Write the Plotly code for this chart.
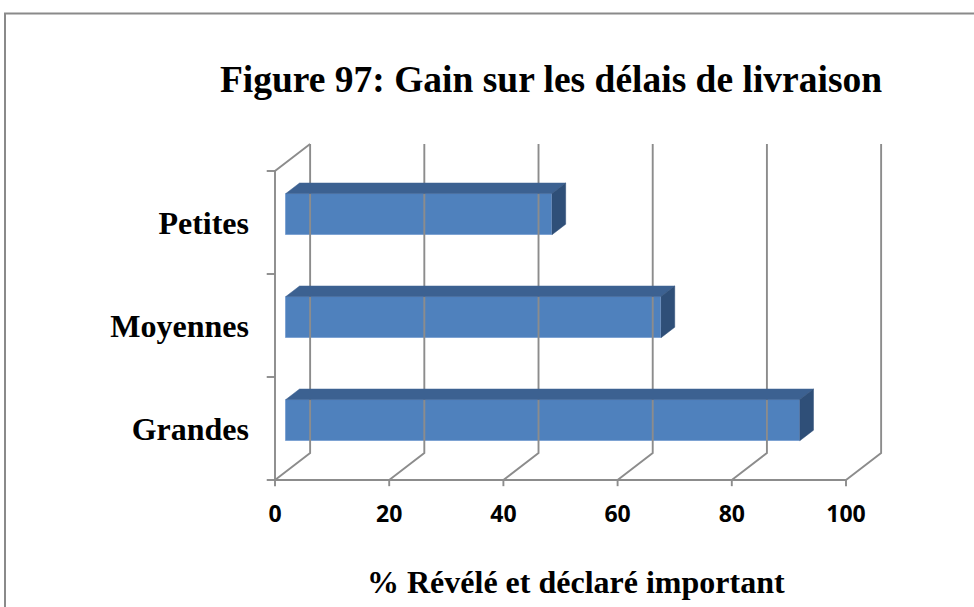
import plotly.graph_objects as go

# Data
categories = ["Grandes", "Moyennes", "Petites"]          # bottom to top
values = [90.0, 65.7, 46.6]                              # % revealed and declared important
x_ticks = [0, 20, 40, 60, 80, 100]

# Pseudo-3D geometry (data units)
DX = 6.15      # depth offset along value axis
DY = 0.262     # depth offset along category axis
D0, D1 = 0.31, 0.70   # front / back depth of bars
BAR_W = 0.4

FRONT = "#4F81BD"
TOP = "#3C6191"
SIDE = "#2F4F78"
GRID = "#8C8C8C"

fig = go.Figure()

# Back wall gridlines + floor diagonals
gx, gy = [], []
for v in x_ticks:
    gx += [v, v + DX, v + DX, None]
    gy += [0, DY, 3 + DY, None]
# Left wall outline
gx += [0, 0, DX, None]
gy += [0, 3, 3 + DY, None]
# Front value axis line
gx += [0, 100, None]
gy += [0, 0, None]
# Tick marks below the value axis
for v in x_ticks:
    gx += [v, v, None]
    gy += [0, -0.06, None]
# Tick marks left of the wall
for k in range(4):
    gx += [-1.45, 0, None]
    gy += [k, k, None]
fig.add_trace(go.Scatter(x=gx, y=gy, mode="lines",
                         line=dict(color=GRID, width=1.9),
                         hoverinfo="skip", showlegend=False))

# Bars: top and side faces as polygons, front face as a bar trace
ddx = (D1 - D0) * DX
ddy = (D1 - D0) * DY
for i, val in enumerate(values):
    x0 = D0 * DX
    x1 = val + D0 * DX
    yb = i + 0.5 - BAR_W / 2 + D0 * DY
    yt = i + 0.5 + BAR_W / 2 + D0 * DY
    fig.add_trace(go.Scatter(
        x=[x0, x1, x1 + ddx, x0 + ddx, x0],
        y=[yt, yt, yt + ddy, yt + ddy, yt],
        mode="lines", fill="toself", fillcolor=TOP,
        line=dict(color=TOP, width=0.5),
        hoverinfo="skip", showlegend=False))
    fig.add_trace(go.Scatter(
        x=[x1, x1 + ddx, x1 + ddx, x1, x1],
        y=[yb, yb + ddy, yt + ddy, yt, yb],
        mode="lines", fill="toself", fillcolor=SIDE,
        line=dict(color=SIDE, width=0.5),
        hoverinfo="skip", showlegend=False))

fig.add_trace(go.Bar(
    orientation="h",
    y=[i + 0.5 + D0 * DY for i in range(len(values))],
    x=values,
    base=D0 * DX,
    width=BAR_W,
    marker=dict(color=FRONT, line=dict(color="#7EA3D3", width=1)),
    hoverinfo="skip", showlegend=False))

# Plot area spans px 262..904 horizontally and 135..490 vertically
PX_PER_UNIT = 5.71
L, R, T, B = 262, 70, 135, 117
x_range = [(262 - 275) / PX_PER_UNIT, (904 - 275) / PX_PER_UNIT]
y_range = [(480 - 490) / 103, (480 - 135) / 103]

fig.update_layout(
    width=974, height=607,
    margin=dict(l=L, r=R, t=T, b=B),
    paper_bgcolor="white", plot_bgcolor="white",
    bargap=0,
    title=dict(text="Figure 97: Gain sur les délais de livraison",
               x=551 / 974, xanchor="center", xref="container",
               y=1 - 79 / 607, yanchor="middle",
               font=dict(family="Liberation Serif", size=37.5, color="black", weight="bold")),
    xaxis=dict(range=x_range, showgrid=False, zeroline=False, showline=False,
               tickvals=x_ticks, ticktext=[str(v) for v in x_ticks], ticks="",
               ticklabelstandoff=8,
               tickfont=dict(family="Open Sans", size=23, color="black", weight="bold")),
    yaxis=dict(range=y_range, showgrid=False, zeroline=False, showline=False,
               tickvals=[0.5, 1.5, 2.5], ticktext=categories, ticks="",
               ticklabelstandoff=12,
               tickfont=dict(family="Liberation Serif", size=32, color="black", weight="bold")),
    annotations=[dict(
        text="% Révélé et déclaré important", showarrow=False,
        xref="paper", yref="paper",
        x=(576 - L) / 642, y=(490 - 582) / 355, xanchor="center", yanchor="middle",
        font=dict(family="Liberation Serif", size=32, color="black", weight="bold"))],
    shapes=[dict(type="rect", xref="paper", yref="paper",
                 x0=(5 - L) / 642, x1=(990 - L) / 642,
                 y0=(490 - 620) / 355, y1=(490 - 13.5) / 355,
                 line=dict(color="#8A8A8A", width=2), fillcolor="rgba(0,0,0,0)",
                 layer="below")],
)

fig.write_html("out.html")
